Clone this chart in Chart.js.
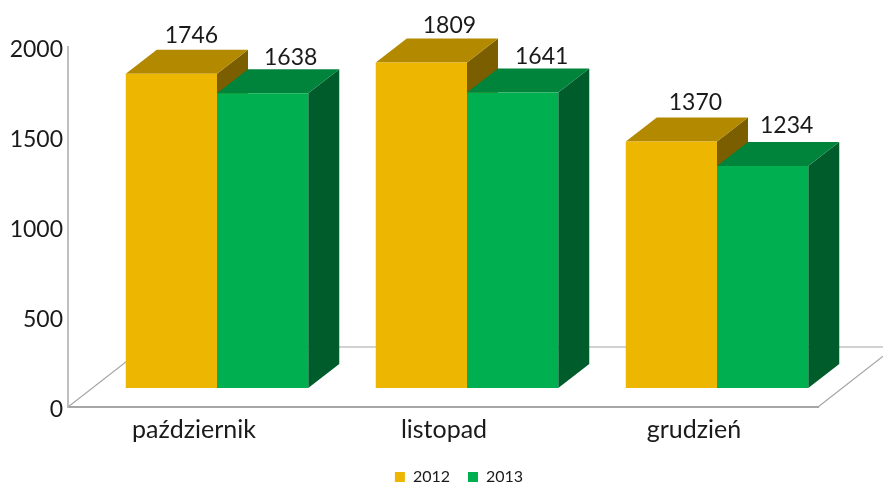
<!DOCTYPE html>
<html>
<head>
<meta charset="utf-8">
<style>
  html, body { margin: 0; background: #fff; }
  canvas { display: block; }
</style>
</head>
<body>
<canvas id="chart" width="883" height="483"></canvas>
<script src="https://cdn.jsdelivr.net/npm/chart.js@4"></script>
<script>
  const categories = ['październik', 'listopad', 'grudzień'];
  const values2012 = [1746, 1809, 1370];
  const values2013 = [1638, 1641, 1234];
  const yTicks = [0, 500, 1000, 1500, 2000];

  // the bars stand in a plane shifted into the box, away from the axes
  const planeShift = { x: 24, y: -19 };
  const barDepth = { x: 31, y: -24 };
  const floorDepth = { x: 77, y: -60 };
  const textColor = '#1a1a1a';
  const fontName = 'Lato, "Open Sans", sans-serif';

  // value labels were placed by hand in the original, so each has its own offset from its bar
  const labelOffsetX = [[20, 28, 24], [28, 29, 24]];
  const labelOffsetY = [[-38, -37, -39], [-36, -36, -40]];

  function face(ctx, points, color) {
    ctx.fillStyle = color;
    ctx.beginPath();
    points.forEach((p, i) => i ? ctx.lineTo(p[0], p[1]) : ctx.moveTo(p[0], p[1]));
    ctx.closePath();
    ctx.fill();
  }

  const bars3d = {
    id: 'bars3d',
    afterLayout(chart) {
      // legend is centred on the whole picture plus a bit in the original
      chart.legend.left += 50;
      chart.legend.right += 50;
    },
    beforeDatasetsDraw(chart) {
      const ctx = chart.ctx;
      const area = chart.chartArea;
      ctx.save();
      ctx.strokeStyle = '#a6a6a6';
      ctx.lineWidth = 1.2;
      ctx.beginPath();
      ctx.moveTo(area.left, area.bottom);
      ctx.lineTo(area.left + floorDepth.x, area.bottom + floorDepth.y);
      ctx.lineTo(area.right + floorDepth.x, area.bottom + floorDepth.y);
      ctx.lineTo(area.right, area.bottom);
      ctx.stroke();
      ctx.restore();

      // top and side faces first, 2012 then 2013; the library paints the fronts after
      ctx.save();
      ctx.translate(planeShift.x, planeShift.y);
      chart.data.datasets.forEach((ds, i) => {
        chart.getDatasetMeta(i).data.forEach(bar => {
          const left = bar.x - bar.width / 2;
          const right = bar.x + bar.width / 2;
          const dx = barDepth.x, dy = barDepth.y;
          face(ctx, [[right, bar.y], [right + dx, bar.y + dy], [right + dx, bar.base + dy], [right, bar.base]], ds.sideColor);
          face(ctx, [[left, bar.y], [left + dx, bar.y + dy], [right + dx, bar.y + dy], [right, bar.y]], ds.topColor);
        });
      });
    },
    afterDatasetsDraw(chart) {
      const ctx = chart.ctx;
      ctx.restore();
      ctx.save();
      ctx.font = '23px ' + fontName;
      ctx.fillStyle = textColor;
      ctx.textAlign = 'center';
      ctx.textBaseline = 'middle';
      chart.data.datasets.forEach((ds, i) => {
        chart.getDatasetMeta(i).data.forEach((bar, j) => {
          ctx.fillText(ds.data[j], bar.x + planeShift.x + labelOffsetX[i][j], bar.y + planeShift.y + labelOffsetY[i][j]);
        });
      });
      ctx.restore();
    }
  };

  new Chart(document.getElementById('chart'), {
    type: 'bar',
    data: {
      labels: categories,
      datasets: [
        { label: '2012', data: values2012, backgroundColor: '#EDB600', topColor: '#B38900', sideColor: '#7A5E00', clip: false },
        { label: '2013', data: values2013, backgroundColor: '#00B050', topColor: '#00843C', sideColor: '#005C2A', clip: false }
      ]
    },
    options: {
      responsive: false,
      animation: false,
      layout: { padding: { top: 47, right: 65, left: 0, bottom: -12 } },
      categoryPercentage: 0.73,
      barPercentage: 1,
      scales: {
        x: {
          grid: { display: false, drawTicks: false },
          border: { color: '#a6a6a6', width: 2 },
          ticks: { color: textColor, font: { family: fontName, size: 25 }, padding: 8, labelOffset: 1, maxRotation: 0 },
          afterFit(scale) { scale.height = 44; }
        },
        y: {
          min: 0,
          max: 2000,
          afterBuildTicks(scale) { scale.ticks = yTicks.map(value => ({ value })); },
          grid: { display: false, drawTicks: false },
          border: { color: '#bfbfbf', width: 2 },
          ticks: { color: textColor, font: { family: fontName, size: 23 }, padding: 5, labelOffset: 3, callback: value => String(value) },
          afterFit(scale) { scale.width = 68; }
        }
      },
      plugins: {
        legend: {
          position: 'bottom',
          labels: { color: textColor, font: { family: fontName, size: 16 }, boxWidth: 10, boxHeight: 10, padding: 18 }
        },
        tooltip: { enabled: false }
      }
    },
    plugins: [bars3d]
  });
</script>
</body>
</html>
